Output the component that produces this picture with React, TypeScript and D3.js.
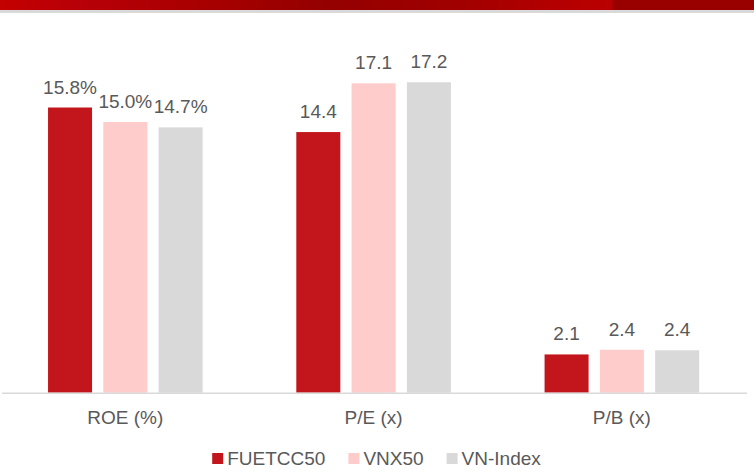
import React, { useEffect, useRef } from "react";
import * as d3 from "d3";

const categories = ["ROE (%)", "P/E (x)", "P/B (x)"];
const seriesNames = ["FUETCC50", "VNX50", "VN-Index"];
const fuetcc50 = [15.8, 14.44, 2.12];
const vnx50 = [15.0, 17.14, 2.38];
const vnIndex = [14.7, 17.2, 2.35];
const labelSuffix = ["%", "", ""];
const colors = ["#C3161C", "#FFCCCC", "#D9D9D9"];

const W = 754;
const H = 473;

export default function App() {
  const ref = useRef<SVGSVGElement | null>(null);

  useEffect(() => {
    const svg = d3.select(ref.current);
    svg.selectAll("*").remove();
    const font = "'Liberation Sans', Arial, sans-serif";
    const textColor = "#595959";

    // header gradient
    const defs = svg.append("defs");
    const grad = defs.append("linearGradient").attr("id", "hdr").attr("x1", "0").attr("x2", "1");
    [
      [0, "#C40000"],
      [0.1, "#B80008"],
      [0.3, "#A50000"],
      [0.43, "#940000"],
      [0.6, "#A00000"],
      [0.74, "#B40000"],
      [0.81, "#BA0000"],
      [0.815, "#990000"],
      [1, "#990000"],
    ].forEach(([o, c]) => grad.append("stop").attr("offset", o as number).attr("stop-color", c as string));
    svg.append("rect").attr("x", 0).attr("y", 0).attr("width", W).attr("height", 10).attr("fill", "url(#hdr)");
    svg.append("rect").attr("x", 0).attr("y", 10).attr("width", W).attr("height", 3).attr("fill", "#D9D9D9");

    const data = [fuetcc50, vnx50, vnIndex];

    const x0 = d3.scaleBand<string>().domain(categories).range([1.2, 746]).padding(0);
    const x1 = d3
      .scaleBand<string>()
      .domain(seriesNames)
      .range([0, x0.bandwidth()])
      .paddingInner(0.204)
      .paddingOuter(0.847);
    const y = d3.scaleLinear().domain([0, 20]).range([392.7, 392.7 - 20 * 18.05]);

    // bars
    categories.forEach((cat, ci) => {
      seriesNames.forEach((s, si) => {
        const v = data[si][ci];
        const bx = (x0(cat) as number) + (x1(s) as number);
        svg
          .append("rect")
          .attr("x", bx)
          .attr("y", y(v))
          .attr("width", x1.bandwidth())
          .attr("height", y(0) - y(v))
          .attr("fill", colors[si]);
        svg
          .append("text")
          .attr("x", bx + x1.bandwidth() / 2)
          .attr("y", y(v) - 14)
          .attr("text-anchor", "middle")
          .attr("font-family", font)
          .attr("font-size", 19)
          .attr("fill", textColor)
          .text(d3.format(".1f")(v) + labelSuffix[ci]);
      });
      svg
        .append("text")
        .attr("x", (x0(cat) as number) + x0.bandwidth() / 2)
        .attr("y", 424)
        .attr("text-anchor", "middle")
        .attr("font-family", font)
        .attr("font-size", 19)
        .attr("fill", textColor)
        .text(cat);
    });

    // axis line
    svg
      .append("line")
      .attr("x1", 2)
      .attr("x2", 747)
      .attr("y1", 393.3)
      .attr("y2", 393.3)
      .attr("stroke", "#D9D9D9")
      .attr("stroke-width", 1.5);

    // legend
    const lg = svg.append("g");
    let cx = 0;
    seriesNames.forEach((s, i) => {
      const g = lg.append("g").attr("transform", `translate(${cx},0)`);
      g.append("rect").attr("x", 0).attr("y", 453).attr("width", 11).attr("height", 11).attr("fill", colors[i]);
      const t = g
        .append("text")
        .attr("x", 15)
        .attr("y", 464.5)
        .attr("font-family", font)
        .attr("font-size", 19)
        .attr("fill", textColor)
        .text(s);
      const tw = (t.node() as SVGTextElement).getComputedTextLength();
      cx += 15 + tw + 23;
    });
    const total = cx - 23;
    lg.attr("transform", `translate(${(W - total) / 2 - 0.5},0)`);
  }, []);

  return (
    <div style={{ position: "absolute", left: 0, top: 0, width: W, height: H, background: "#fff" }}>
      <svg ref={ref} width={W} height={H} style={{ display: "block" }} />
    </div>
  );
}
